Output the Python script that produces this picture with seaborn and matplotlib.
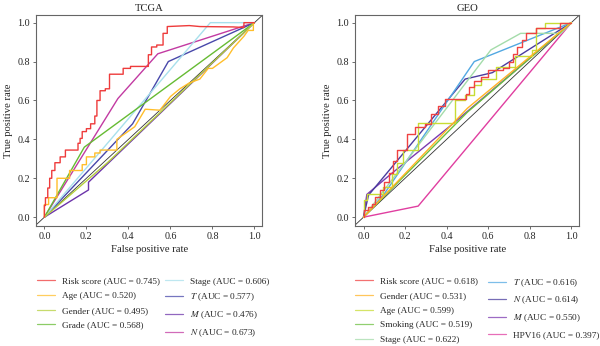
import numpy as np
import pandas as pd
import matplotlib
matplotlib.use("Agg")
import matplotlib.pyplot as plt
import seaborn as sns
from matplotlib.lines import Line2D

sns.set_theme(style="white")
plt.rcParams['font.family'] = ['Liberation Serif', 'DejaVu Serif']
plt.rcParams['mathtext.fontset'] = 'stix'

# ---------------- TCGA data ----------------
tcga_labels = ["Risk score (AUC = 0.745)", "Age (AUC = 0.520)", "Gender (AUC = 0.495)",
               "Grade (AUC = 0.568)", "Stage (AUC = 0.606)", "$T$ (AUC = 0.577)",
               "$M$ (AUC = 0.476)", "$N$ (AUC = 0.673)"]
tcga_colors = ["#EE3B3B", "#FFBE2A", "#B5CF3C", "#66BB33", "#A8E0EC", "#4848AA", "#6C34AA", "#C23AA2"]

tcga_risk_fpr = [0, 0, 0.005, 0.005, 0.016, 0.016, 0.025, 0.025, 0.035, 0.035, 0.05, 0.05, 0.075, 0.075,
                 0.10, 0.10, 0.16, 0.16, 0.17, 0.17, 0.18, 0.18, 0.20, 0.20, 0.22, 0.22, 0.24, 0.24,
                 0.25, 0.25, 0.265, 0.265, 0.29, 0.29, 0.31, 0.31, 0.375, 0.375, 0.41, 0.41, 0.495,
                 0.495, 0.51, 0.51, 0.535, 0.535, 0.565, 0.565, 0.585, 0.585, 0.69, 0.74, 0.90, 0.95, 0.95, 1.0]
tcga_risk_tpr = [0, 0.06, 0.06, 0.10, 0.10, 0.15, 0.15, 0.20, 0.20, 0.24, 0.24, 0.28, 0.28, 0.31,
                 0.31, 0.345, 0.345, 0.38, 0.38, 0.405, 0.405, 0.44, 0.44, 0.455, 0.455, 0.48, 0.48, 0.52,
                 0.52, 0.60, 0.60, 0.65, 0.65, 0.66, 0.66, 0.735, 0.735, 0.765, 0.765, 0.775, 0.775,
                 0.835, 0.835, 0.875, 0.875, 0.885, 0.885, 0.945, 0.945, 0.98, 0.985, 0.98, 0.978, 0.975, 1.0, 1.0]
tcga_age_fpr = [0, 0, 0.02, 0.02, 0.06, 0.06, 0.12, 0.12, 0.18, 0.18, 0.20, 0.20, 0.24, 0.24, 0.265,
                0.265, 0.345, 0.345, 0.43, 0.48, 0.55, 0.60, 0.645, 0.69, 0.74, 0.78, 0.80, 0.87, 0.90,
                0.95, 0.97, 0.995, 0.995, 1.0]
tcga_age_tpr = [0, 0.065, 0.065, 0.10, 0.10, 0.20, 0.20, 0.24, 0.24, 0.27, 0.27, 0.31, 0.31, 0.33,
                0.33, 0.345, 0.345, 0.40, 0.465, 0.555, 0.55, 0.62, 0.66, 0.69, 0.71, 0.765, 0.765,
                0.82, 0.87, 0.93, 0.96, 0.96, 1.0, 1.0]
tcga_gender_fpr = [0, 0.30, 1.0]
tcga_gender_tpr = [0, 0.28, 1.0]
tcga_grade_fpr = [0, 0.19, 1.0]
tcga_grade_tpr = [0, 0.36, 1.0]
tcga_stage_fpr = [0, 0.79, 1.0]
tcga_stage_tpr = [0, 1.0, 1.0]
tcga_t_fpr = [0, 0.42, 0.59, 1.0]
tcga_t_tpr = [0, 0.48, 0.80, 1.0]
tcga_m_fpr = [0, 0.21, 0.21, 1.0]
tcga_m_tpr = [0, 0.14, 0.18, 1.0]
tcga_n_fpr = [0, 0.35, 0.54, 1.0]
tcga_n_tpr = [0, 0.61, 0.84, 1.0]

# ---------------- GEO data ----------------
geo_labels = ["Risk score (AUC = 0.618)", "Gender (AUC = 0.531)", "Age (AUC = 0.599)",
              "Smoking (AUC = 0.519)", "Stage (AUC = 0.622)", "$T$ (AUC = 0.616)",
              "$N$ (AUC = 0.614)", "$M$ (AUC = 0.550)", "HPV16 (AUC = 0.397)"]
geo_colors = ["#F04242", "#FFB424", "#C8DC34", "#6CC040", "#A4DCAA", "#52A8E2", "#4A3C9E", "#7C3AB0", "#E03EA0"]

geo_risk_fpr = [0, 0.0, 0.024, 0.024, 0.04, 0.04, 0.056, 0.056, 0.08, 0.08, 0.10, 0.10, 0.124, 0.124,
                0.143, 0.143, 0.16, 0.16, 0.207, 0.207, 0.247, 0.247, 0.295, 0.295, 0.326, 0.326,
                0.358, 0.358, 0.39, 0.39, 0.494, 0.494, 0.51, 0.51, 0.533, 0.533, 0.565, 0.565,
                0.597, 0.597, 0.67, 0.67, 0.70, 0.70, 0.717, 0.717, 0.74, 0.74, 0.764, 0.764,
                0.78, 0.78, 0.828, 0.828, 0.947, 0.947, 1.0]
geo_risk_tpr = [0, 0.036, 0.036, 0.053, 0.053, 0.07, 0.07, 0.105, 0.105, 0.14, 0.14, 0.18, 0.18, 0.225,
                0.225, 0.29, 0.29, 0.345, 0.345, 0.43, 0.43, 0.465, 0.465, 0.48, 0.48, 0.533,
                0.533, 0.57, 0.57, 0.61, 0.61, 0.635, 0.635, 0.67, 0.67, 0.70, 0.70, 0.72,
                0.72, 0.756, 0.756, 0.765, 0.765, 0.80, 0.80, 0.84, 0.84, 0.876, 0.876, 0.91,
                0.91, 0.945, 0.945, 0.97, 0.97, 1.0, 1.0]
geo_age_fpr = [0, 0.0, 0.016, 0.016, 0.095, 0.095, 0.135, 0.135, 0.16, 0.16, 0.19, 0.19, 0.263, 0.263,
               0.438, 0.438, 0.49, 0.49, 0.533, 0.533, 0.565, 0.565, 0.637, 0.637, 0.73, 0.73,
               0.81, 0.81, 0.83, 0.83, 0.875, 0.875, 1.0]
geo_age_tpr = [0, 0.09, 0.09, 0.12, 0.12, 0.155, 0.155, 0.22, 0.22, 0.28, 0.28, 0.345, 0.345, 0.485,
               0.485, 0.60, 0.60, 0.63, 0.63, 0.68, 0.68, 0.71, 0.71, 0.77, 0.77, 0.83,
               0.83, 0.86, 0.86, 0.97, 0.97, 1.0, 1.0]
geo_gender_fpr = [0, 0.50, 1.0]
geo_gender_tpr = [0, 0.56, 1.0]
geo_smoking_fpr = [0, 0.50, 1.0]
geo_smoking_tpr = [0, 0.54, 1.0]
geo_stage_fpr = [0, 0.613, 0.756, 0.95, 1.0]
geo_stage_tpr = [0, 0.86, 0.945, 0.945, 1.0]
geo_t_fpr = [0, 0.10, 0.533, 1.0]
geo_t_tpr = [0, 0.12, 0.80, 1.0]
geo_n_fpr = [0, 0.024, 0.489, 0.62, 1.0]
geo_n_tpr = [0, 0.113, 0.71, 0.743, 1.0]
geo_m_fpr = [0, 0.016, 0.13, 0.43, 1.0]
geo_m_tpr = [0, 0.117, 0.22, 0.48, 1.0]
geo_hpv_fpr = [0, 0.263, 1.0]
geo_hpv_tpr = [0, 0.057, 1.0]

tcga_curves = [(tcga_risk_fpr, tcga_risk_tpr), (tcga_age_fpr, tcga_age_tpr), (tcga_gender_fpr, tcga_gender_tpr),
               (tcga_grade_fpr, tcga_grade_tpr), (tcga_stage_fpr, tcga_stage_tpr), (tcga_t_fpr, tcga_t_tpr),
               (tcga_m_fpr, tcga_m_tpr), (tcga_n_fpr, tcga_n_tpr)]
geo_curves = [(geo_risk_fpr, geo_risk_tpr), (geo_gender_fpr, geo_gender_tpr), (geo_age_fpr, geo_age_tpr),
              (geo_smoking_fpr, geo_smoking_tpr), (geo_stage_fpr, geo_stage_tpr), (geo_t_fpr, geo_t_tpr),
              (geo_n_fpr, geo_n_tpr), (geo_m_fpr, geo_m_tpr), (geo_hpv_fpr, geo_hpv_tpr)]


def build_df(curves, labels):
    rows = []
    for (f, t), lab in zip(curves, labels):
        for i, (a, b) in enumerate(zip(f, t)):
            rows.append({"fpr": a, "tpr": b, "label": lab, "idx": i})
    return pd.DataFrame(rows)


W, H = 600, 346
fig = plt.figure(figsize=(6.0, 3.46), dpi=100)
ax1 = fig.add_axes([0.060, 0.347, 0.377, 0.610])
ax2 = fig.add_axes([0.592, 0.347, 0.373, 0.610])

# legend column anchors (pixel x of line start) and split index
panels = [(ax1, tcga_curves, tcga_labels, tcga_colors, "TCGA", (37, 165), 4),
          (ax2, geo_curves, geo_labels, geo_colors, "GEO", (355, 488), 5)]

for ax, curves, labels, colors, title, cols, split in panels:
    df = build_df(curves, labels)
    ax.axline((0, 0), slope=1, color="#333333", lw=0.6, zorder=1)
    pal = dict(zip(labels, colors))
    for lab in labels[::-1]:
        sub = df[df["label"] == lab]
        sns.lineplot(data=sub, x="fpr", y="tpr", color=pal[lab], sort=False, estimator=None,
                     lw=1.0, ax=ax, legend=False)
    ax.set_xlim(-0.04, 1.037)
    ax.set_ylim(-0.045, 1.04)
    ticks = [0.0, 0.2, 0.4, 0.6, 0.8, 1.0]
    ax.set_xticks(ticks)
    ax.set_yticks(ticks)
    ax.set_xticklabels([f"{t:.1f}" for t in ticks])
    ax.set_yticklabels([f"{t:.1f}" for t in ticks])
    ax.tick_params(axis="both", labelsize=7.3, length=2.5, width=0.6, color="#555555",
                   direction="out", pad=2, bottom=True, left=True)
    for s in ax.spines.values():
        s.set_color("#666666")
        s.set_linewidth(0.8)
    ax.set_xlabel("False positive rate", fontsize=7.7, labelpad=3)
    ax.set_ylabel("True positive rate", fontsize=7.7, labelpad=3)
    ax.set_title(title, fontsize=7.7, pad=3)
    handles = [Line2D([0], [0], color=c, lw=0.9, alpha=0.75) for c in colors]
    groups = [(handles[:split], labels[:split], cols[0]), (handles[split:], labels[split:], cols[1])]
    for hs, ls, xpx in groups:
        leg = fig.legend(hs, ls, loc="upper left", bbox_to_anchor=(xpx / W, 1 - 277 / H),
                         ncol=1, frameon=False, fontsize=6.7, handlelength=1.95, handletextpad=0.75,
                         labelspacing=0.66, borderpad=0.0, borderaxespad=0.0)

fig.savefig("out.png", dpi=100)
